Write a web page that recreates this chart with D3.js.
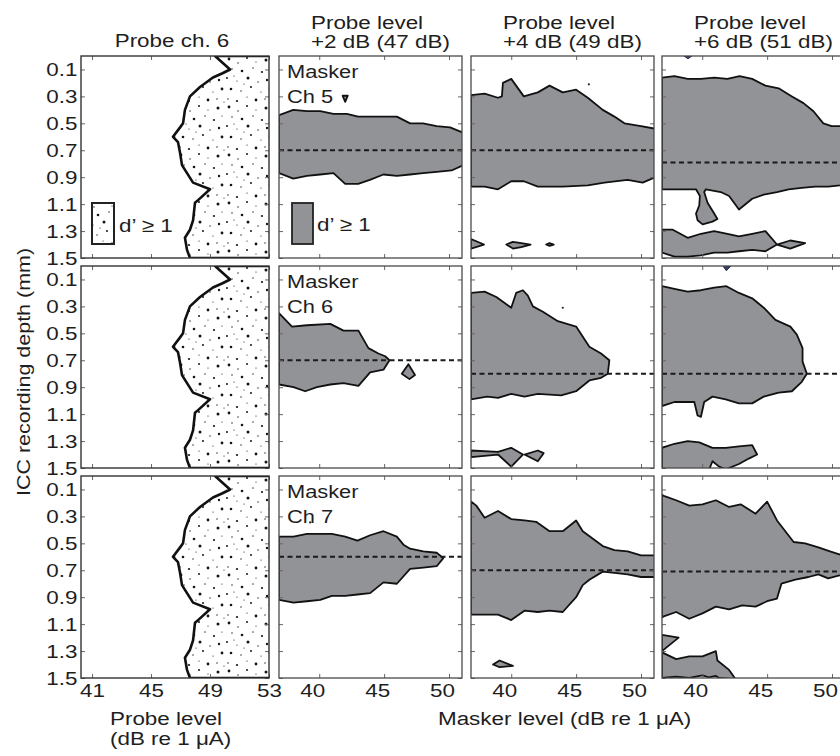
<!DOCTYPE html>
<html>
<head>
<meta charset="utf-8">
<script src="https://cdn.jsdelivr.net/npm/d3@7"></script>
<style>
body { margin: 0; background: #fff; }
text { font-family: "Liberation Sans", Arial, Helvetica, sans-serif; fill: #1e1e1e; }
</style>
</head>
<body>
<svg id="chart" width="840" height="756"></svg>
<script>

// ---- data (levels in dB re 1 uA, depth in mm) ----
var depthTicks = [0.1, 0.3, 0.5, 0.7, 0.9, 1.1, 1.3, 1.5];
var probeTicks = [41, 45, 49, 53];
var maskerTicks = [40, 45, 50];
var maskerChannels = ["Ch 5", "Ch 6", "Ch 7"];
var probeSteps = ["+2 dB (47 dB)", "+4 dB (49 dB)", "+6 dB (51 dB)"];

// probe ch. 6 alone: left edge of the d' >= 1 region
var probeEdge = [[49.34,0.0],[50.36,0.10],[49.81,0.13],[49.2,0.16],[48.32,0.23],[47.64,0.30],[47.3,0.40],
  [47.17,0.50],[46.97,0.53],[46.49,0.60],[46.83,0.64],[46.97,0.72],[47.1,0.81],[47.44,0.87],[47.85,0.94],
  [49.0,0.99],[48.19,1.07],[47.98,1.09],[47.85,1.22],[47.64,1.29],[47.3,1.35],[47.44,1.44],[47.64,1.5]];

// depth of the dashed line, [row][column]
var dashDepth = [[0.70, 0.70, 0.79], [0.70, 0.80, 0.80], [0.60, 0.70, 0.71]];

// masker ch 5
var ch5p2 = [[36.9,0.44],[38.0,0.40],[39.05,0.41],[40.08,0.41],[41.1,0.43],[42.13,0.43],[43.0,0.45],[43.9,0.45],
  [44.95,0.45],[45.98,0.45],[47.0,0.50],[48.0,0.50],[49.05,0.52],[50.08,0.53],[51.1,0.57],[51.1,0.81],[50.2,0.85],
  [49.05,0.86],[48.0,0.87],[47.0,0.88],[45.98,0.89],[44.95,0.88],[43.9,0.92],[43.0,0.95],[42.0,0.95],[41.1,0.87],
  [40.08,0.88],[39.05,0.89],[38.0,0.91],[36.9,0.87]];
var ch5p2b = [[41.8,0.295],[42.2,0.295],[42.0,0.34]];
var ch5p4 = [[36.9,0.29],[37.95,0.28],[38.98,0.31],[39.28,0.30],[39.36,0.20],[40.0,0.17],[40.97,0.30],[42.05,0.27],
  [42.95,0.22],[43.97,0.27],[45.0,0.25],[45.9,0.31],[47.05,0.40],[47.95,0.45],[48.72,0.50],[50.0,0.52],[51.1,0.54],
  [51.1,0.90],[50.13,0.94],[48.97,0.92],[47.18,0.94],[45.9,0.96],[43.97,0.97],[42.95,0.97],[42.05,0.97],[40.97,0.93],
  [40.0,0.93],[38.98,0.99],[37.95,0.97],[36.9,0.97]];
var ch5p4b = [[36.9,1.36],[37.9,1.40],[36.9,1.43]];
var ch5p4c = [[39.62,1.40],[40.13,1.38],[40.77,1.39],[41.49,1.40],[40.77,1.42],[40.13,1.43]];
var ch5p4d = [[42.69,1.40],[42.95,1.39],[43.28,1.40],[42.95,1.41]];
var ch5p6 = [[36.9,0.16],[37.86,0.15],[38.88,0.17],[39.9,0.17],[40.92,0.16],[41.94,0.17],[42.88,0.15],[43.85,0.17],
  [44.87,0.22],[45.89,0.24],[46.91,0.30],[47.8,0.35],[48.57,0.41],[49.33,0.50],[49.97,0.52],[50.6,0.52],[51.2,0.53],
  [51.2,0.95],[50.6,0.96],[49.7,0.97],[48.7,0.97],[47.67,0.98],[46.66,0.99],[45.76,1.01],[44.74,1.03],[43.85,1.06],
  [43.21,1.11],[42.83,1.14],[42.45,1.09],[42.07,1.04],[41.43,1.01],[40.28,0.99],[40.15,1.01],[40.41,1.09],
  [40.92,1.17],[41.17,1.21],[40.79,1.23],[40.03,1.25],[39.64,1.22],[39.52,1.17],[39.77,1.11],[39.82,1.04],
  [39.52,0.99],[38.5,0.99],[36.9,0.99]];
var ch5p6b = [[36.9,1.29],[37.73,1.29],[38.88,1.35],[39.9,1.32],[40.92,1.30],[41.94,1.32],[42.83,1.34],[43.85,1.32],
  [44.87,1.30],[45.76,1.40],[46.78,1.37],[47.93,1.39],[46.78,1.43],[45.76,1.40],[44.87,1.45],[43.85,1.44],
  [42.83,1.45],[41.94,1.46],[40.92,1.46],[39.9,1.48],[38.88,1.49],[37.86,1.49],[36.9,1.46]];
var ch5p6c = [[38.6,0.0],[39.2,0.0],[38.9,0.02]];

// masker ch 6
var ch6p2 = [[36.9,0.35],[37.9,0.45],[39.05,0.44],[40.85,0.43],[41.87,0.48],[43.02,0.48],[43.79,0.61],[44.56,0.65],
  [45.08,0.67],[45.41,0.70],[44.95,0.77],[43.92,0.79],[43.02,0.89],[41.87,0.87],[40.85,0.88],[39.82,0.90],
  [38.92,0.93],[38.02,0.90],[36.9,0.88]];
var ch6p2b = [[46.36,0.80],[46.87,0.73],[47.38,0.81],[46.95,0.84]];
var ch6p4 = [[36.9,0.20],[37.95,0.19],[38.85,0.23],[40.0,0.31],[40.38,0.20],[40.9,0.18],[41.28,0.22],[41.67,0.30],
  [42.44,0.34],[43.59,0.41],[45.0,0.45],[46.02,0.60],[46.92,0.65],[47.56,0.70],[47.44,0.80],[46.92,0.83],
  [46.02,0.85],[45.0,0.93],[43.85,0.96],[42.05,0.95],[41.02,0.97],[40.0,0.95],[38.98,0.98],[38.15,0.97],[36.9,0.99]];
var ch6p4b = [[36.9,1.37],[38.98,1.38],[40.0,1.35],[40.9,1.40],[40.0,1.49],[38.98,1.40],[36.9,1.42]];
var ch6p4c = [[41.02,1.40],[42.05,1.37],[42.5,1.39],[42.05,1.45]];
var ch6p6 = [[36.9,0.15],[37.86,0.17],[38.88,0.19],[39.9,0.18],[40.92,0.16],[41.86,0.15],[42.83,0.20],[43.85,0.24],
  [44.74,0.31],[45.64,0.40],[46.79,0.45],[47.29,0.51],[47.73,0.61],[47.73,0.71],[48.06,0.80],[47.67,0.86],
  [46.91,0.93],[45.89,0.94],[44.74,0.97],[43.85,1.02],[42.83,1.02],[41.81,0.99],[40.79,0.97],[40.15,1.01],
  [39.9,1.12],[39.64,1.11],[39.39,1.01],[37.86,1.01],[36.9,1.04]];
var ch6p6b = [[36.9,1.35],[37.86,1.32],[38.88,1.30],[39.77,1.31],[40.79,1.35],[41.81,1.35],[42.83,1.34],[43.85,1.33],
  [44.23,1.40],[43.59,1.43],[42.83,1.47],[41.81,1.51],[41.3,1.49],[40.79,1.45],[40.54,1.51],[36.9,1.51]];
var ch6p6c = [[41.6,0.0],[42.2,0.0],[41.86,0.035]];

// masker ch 7
var ch7p2 = [[36.9,0.45],[38.02,0.45],[39.05,0.43],[40.08,0.43],[40.97,0.43],[42.0,0.45],[42.95,0.48],[43.92,0.44],
  [44.95,0.41],[45.98,0.45],[46.49,0.51],[47.0,0.54],[48.02,0.56],[49.05,0.57],[49.56,0.61],[49.05,0.67],
  [48.02,0.68],[47.0,0.69],[45.98,0.80],[44.95,0.79],[43.92,0.87],[42.95,0.88],[42.0,0.89],[40.97,0.89],
  [40.08,0.92],[39.05,0.93],[38.02,0.94],[36.9,0.92]];
var ch7p4 = [[36.9,0.19],[37.31,0.22],[37.95,0.31],[38.98,0.26],[40.0,0.32],[41.02,0.33],[41.92,0.34],[42.95,0.41],
  [43.97,0.41],[45.0,0.33],[45.51,0.41],[47.05,0.52],[47.95,0.55],[48.97,0.56],[50.0,0.59],[51.1,0.59],[51.1,0.75],
  [50.0,0.75],[48.97,0.73],[47.95,0.72],[47.05,0.71],[46.02,0.77],[45.51,0.81],[45.0,0.90],[43.97,1.01],
  [42.95,1.00],[42.05,1.01],[41.02,1.00],[40.0,1.07],[38.98,1.03],[37.95,1.03],[36.9,1.03]];
var ch7p4b = [[38.6,1.40],[39.1,1.37],[40.13,1.41],[39.1,1.42]];
var ch7p6 = [[36.9,0.14],[37.09,0.15],[37.99,0.18],[39.0,0.22],[40.02,0.21],[41.05,0.18],[42.07,0.23],[42.96,0.21],
  [44.11,0.28],[45.0,0.19],[45.76,0.33],[47.04,0.49],[47.93,0.50],[48.95,0.53],[49.85,0.56],[50.5,0.58],[51.2,0.60],
  [51.2,0.73],[50.5,0.74],[49.7,0.76],[48.95,0.73],[48.19,0.75],[47.17,0.77],[46.1,0.80],[45.76,0.91],[45.0,0.93],
  [44.11,0.97],[43.08,0.96],[42.07,0.99],[41.05,0.97],[40.02,1.02],[39.0,1.06],[37.99,1.01],[37.09,1.04],[36.9,1.05]];
var ch7p6b = [[36.9,1.18],[38.18,1.20],[36.9,1.30]];
var ch7p6c = [[36.9,1.31],[37.99,1.36],[39.0,1.34],[40.02,1.34],[41.05,1.30],[41.17,1.37],[42.07,1.44],[42.58,1.51],
  [41.3,1.50],[41.05,1.485],[40.5,1.495],[40.02,1.48],[39.0,1.50],[37.99,1.49],[36.9,1.50]];

var panelShapes = [
  [[ch5p2, ch5p2b], [ch5p4, ch5p4b, ch5p4c, ch5p4d], [ch5p6, ch5p6b]],
  [[ch6p2, ch6p2b], [ch6p4, ch6p4b, ch6p4c], [ch6p6, ch6p6b]],
  [[ch7p2], [ch7p4, ch7p4b], [ch7p6, ch7p6b, ch7p6c]]
];
var darkBits = [[[], [], [ch5p6c]], [[], [], [ch6p6c]], [[], [], []]];
var specks = [[[], [[45.98,0.21]], []], [[], [[43.97,0.31]], []], [[[39.3,0.345]], [], []]];

// ---- layout ----
var rowTop = [56, 266, 476], panelH = 202;
var colLeft = [279, 471, 662], panelW = 183;
var probeLeft = 81, probeW = 188;
var stretch = 1.18;   // glyphs in the figure are drawn wide
var fs = 19;

var svg = d3.select("#chart");

var y = d3.scaleLinear().domain([0, 1.5]).range([0, panelH]);
var xProbe = d3.scaleLinear().domain([40.25, 53]).range([0, probeW]);
var xMask = d3.scaleLinear().domain([36.9, 51]).range([0, panelW]);

var defs = svg.append("defs");
var pat = defs.append("pattern").attr("id", "stip")
  .attr("patternUnits", "userSpaceOnUse").attr("width", 48).attr("height", 48);
pat.append("rect").attr("width", 48).attr("height", 48).attr("fill", "#fff");
// stipple texture
var stipDots = [[4,3,1.4],[13,7,0.7],[22,2,1.0],[31,6,0.6],[41,4,1.5],[7,13,0.7],[17,15,1.3],[28,12,0.7],
  [37,16,1.1],[45,12,0.6],[2,22,1.0],[12,25,0.6],[23,22,1.5],[33,26,0.7],[42,24,1.2],[6,33,1.3],[16,35,0.7],
  [26,31,1.0],[36,36,0.6],[45,33,1.4],[3,43,0.7],[12,45,1.1],[22,41,0.6],[31,44,1.4],[40,43,0.7],[47,46,0.6],
  [19,28,0.6],[9,20,0.6]];
pat.selectAll("circle").data(stipDots).enter().append("circle")
  .attr("cx", function(d){ return d[0]; }).attr("cy", function(d){ return d[1]; })
  .attr("r", function(d){ return d[2]; }).attr("fill", "#151515");

defs.append("clipPath").attr("id", "clipProbe").append("rect").attr("width", probeW).attr("height", panelH);
defs.append("clipPath").attr("id", "clipMask").append("rect").attr("width", panelW).attr("height", panelH);

function label(g, x, yy, str, anchor, rot, size) {
  return g.append("text")
    .attr("transform", "translate(" + x + "," + yy + ")" + (rot ? " rotate(" + rot + ")" : "") + " scale(" + stretch + ",1)")
    .attr("text-anchor", anchor || "start")
    .style("font-size", (size || fs) + "px")
    .text(str);
}

function innerTicks(g, xs, xTicks, w) {
  var tk = [
    [d3.axisLeft(y).tickValues(depthTicks), 0, 0],
    [d3.axisRight(y).tickValues(depthTicks), w, 0],
    [d3.axisTop(xs).tickValues(xTicks), 0, 0],
    [d3.axisBottom(xs).tickValues(xTicks), 0, panelH]
  ];
  tk.forEach(function(t) {
    var a = g.append("g").attr("transform", "translate(" + t[1] + "," + t[2] + ")")
      .call(t[0].tickSize(-4).tickFormat(""));
    a.select(".domain").remove();
    a.selectAll("line").attr("stroke", "#666").attr("stroke-width", 1);
  });
}

var line = d3.line().curve(d3.curveLinearClosed);

// ---- probe alone column ----
rowTop.forEach(function(top, r) {
  var g = svg.append("g").attr("transform", "translate(" + probeLeft + "," + top + ")");
  var inner = g.append("g").attr("clip-path", "url(#clipProbe)");
  var region = probeEdge.concat([[53.2, 1.5], [53.2, 0]]);
  inner.append("path")
    .attr("d", line.x(function(d){ return xProbe(d[0]); }).y(function(d){ return y(d[1]); })(region))
    .attr("fill", "url(#stip)").attr("stroke", "#111").attr("stroke-width", 2.6).attr("stroke-linejoin", "round");
  innerTicks(g, xProbe, probeTicks, probeW);
  g.append("rect").attr("width", probeW).attr("height", panelH)
    .attr("fill", "none").attr("stroke", "#333").attr("stroke-width", 1.4);

  var ya = g.append("g").call(d3.axisLeft(y).tickValues(depthTicks).tickSize(0).tickPadding(3)
    .tickFormat(d3.format(".1f")));
  ya.select(".domain").remove();
  ya.attr("font-size", null).attr("font-family", null);
  ya.selectAll("text").style("font-size", fs + "px").attr("fill", "#1e1e1e")
    .attr("transform", "scale(" + stretch + ",1)");

  if (r == 0) {
    g.append("rect").attr("x", 11).attr("y", 147).attr("width", 22).attr("height", 41)
      .attr("fill", "url(#stip)").attr("stroke", "#222").attr("stroke-width", 2);
    label(g, 38, 176, "d\u2019 \u2265 1");
  }
  if (r == 2) {
    var xa = g.append("g").attr("transform", "translate(0," + panelH + ")")
      .call(d3.axisBottom(xProbe).tickValues(probeTicks).tickSize(0).tickPadding(5.5));
    xa.select(".domain").remove();
    xa.attr("font-size", null).attr("font-family", null);
    xa.selectAll("text").style("font-size", fs + "px").attr("fill", "#1e1e1e")
      .attr("transform", "scale(" + stretch + ",1)");
  }
});

// ---- masker columns ----
rowTop.forEach(function(top, r) {
  colLeft.forEach(function(left, c) {
    var g = svg.append("g").attr("transform", "translate(" + left + "," + top + ")");
    var inner = g.append("g").attr("clip-path", "url(#clipMask)");
    var mline = line.x(function(d){ return xMask(d[0]); }).y(function(d){ return y(d[1]); });

    inner.selectAll("path.blob").data(panelShapes[r][c]).enter().append("path")
      .attr("class", "blob")
      .attr("d", function(d){ return mline(d); })
      .attr("fill", "#929396").attr("stroke", "#111").attr("stroke-width", 1.8)
      .attr("stroke-linejoin", "round");
    inner.selectAll("path.dark").data(darkBits[r][c]).enter().append("path")
      .attr("class", "dark")
      .attr("d", function(d){ return mline(d); })
      .attr("fill", "#3b3e70").attr("stroke", "#2a2a44").attr("stroke-width", 1);
    inner.selectAll("circle").data(specks[r][c]).enter().append("circle")
      .attr("cx", function(d){ return xMask(d[0]); }).attr("cy", function(d){ return y(d[1]); })
      .attr("r", 1.1).attr("fill", "#222");

    inner.append("line")
      .attr("x1", 0).attr("x2", panelW)
      .attr("y1", y(dashDepth[r][c])).attr("y2", y(dashDepth[r][c]))
      .attr("stroke", "#1a1a1a").attr("stroke-width", 2).attr("stroke-dasharray", "5,3.5");

    innerTicks(g, xMask, maskerTicks, panelW);
    g.append("rect").attr("width", panelW).attr("height", panelH)
      .attr("fill", "none").attr("stroke", "#4a4a4a").attr("stroke-width", 1.3);

    if (c == 0) {
      label(g, 8, 22, "Masker", "start", 0, 18.5);
      label(g, 8, 47, maskerChannels[r], "start", 0, 18.5);
      if (r == 0) {
        g.append("rect").attr("x", 13).attr("y", 147).attr("width", 21).attr("height", 41)
          .attr("fill", "#929396").attr("stroke", "#222").attr("stroke-width", 1.8);
        label(g, 38, 175, "d\u2019 \u2265 1");
      }
    }
    if (r == 2) {
      var xa = g.append("g").attr("transform", "translate(0," + panelH + ")")
        .call(d3.axisBottom(xMask).tickValues(maskerTicks).tickSize(0).tickPadding(5.5));
      xa.select(".domain").remove();
      xa.attr("font-size", null).attr("font-family", null);
      xa.selectAll("text").style("font-size", fs + "px").attr("fill", "#1e1e1e")
        .attr("transform", "translate(-7,0) scale(" + stretch + ",1)");
    }
  });
});

// ---- titles and axis labels ----
label(svg, 172, 47, "Probe ch. 6", "middle");
colLeft.forEach(function(left, c) {
  label(svg, left + 32, 28.5, "Probe level");
  label(svg, left + 32, 47.5, probeSteps[c]);
});
label(svg, 30, 372, "ICC recording depth (mm)", "middle", -90, 18.2);
label(svg, 110, 725, "Probe level");
label(svg, 110, 745, "(dB re 1 \u03bcA)");
label(svg, 438, 725, "Masker level (dB re 1 \u03bcA)");

</script>
</body>
</html>
